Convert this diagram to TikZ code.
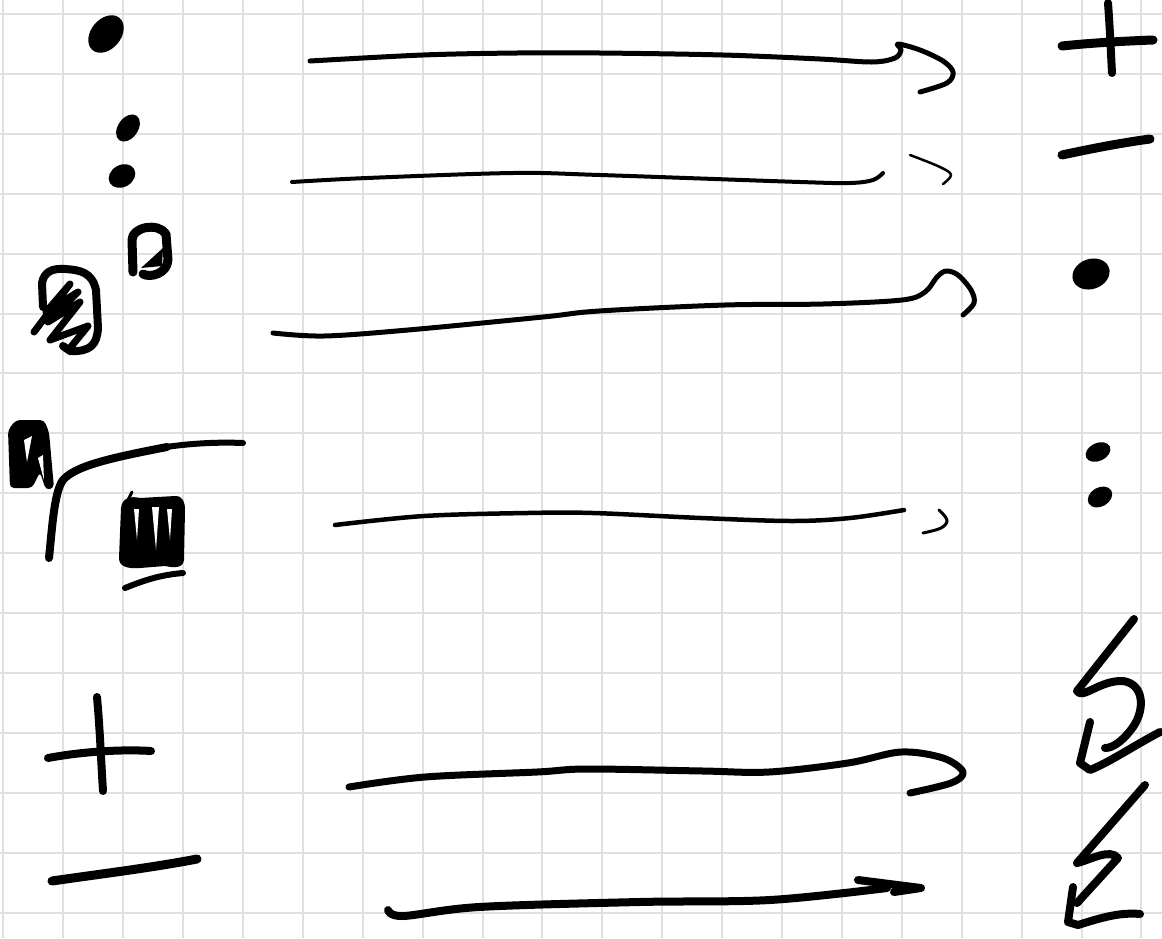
\documentclass[tikz,border=0pt]{standalone}
\begin{document}
\begin{tikzpicture}[x=1pt,y=-1pt,
  gridline/.style={draw=gridgray,line width=2pt},
  ink/.style={draw=black,line width=#1,line cap=round,line join=round},
  ink/.default=5pt]
\definecolor{gridgray}{HTML}{E0E0E0}
\useasboundingbox (0,0) rectangle (1162,938);
\fill[white] (0,0) rectangle (1162,938);
% grid
\foreach \k in {0,...,19} { \draw[gridline] ({3.3+59.9*\k},0) -- ({3.3+59.9*\k},938); }
\foreach \k in {0,...,15} { \draw[gridline] (0,{14+59.9*\k}) -- (1162,{14+59.9*\k}); }

% ---------- left column ----------
% big dot
\begin{scope}[shift={(106,34)},rotate=50]\fill (0,0) ellipse [x radius=21pt,y radius=15pt];\end{scope}
% colon
\begin{scope}[shift={(128,128)},rotate=55]\fill (0,0) ellipse [x radius=15pt,y radius=10pt];\end{scope}
\begin{scope}[shift={(122,176)},rotate=30]\fill (0,0) ellipse [x radius=14pt,y radius=11pt];\end{scope}

% small box
\draw[ink=9pt] (133,272) -- (132,240) .. controls (132,227) and (158,222) .. (166,234)
  -- (168,260) .. controls (167,274) and (150,278) .. (143,274);
\fill (141,268) -- (163,248) -- (162,266) -- cycle;

% scribbled box
\draw[ink=8pt] (43,307) -- (42,283) .. controls (44,272) and (52,268) .. (65,269)
  .. controls (80,270) and (92,272) .. (96,290) -- (98,328) .. controls (97,345) and (90,352) .. (70,351) -- (63,346);
\draw[ink=7pt] (34,332) -- (70,284) -- (46,312) -- (78,292) -- (48,322) -- (80,302) -- (50,340) -- (88,326) -- (70,348);

% filled small box
\fill[rounded corners=4pt] (10,488) -- (8,430) -- (16,420) -- (44,420) -- (49,432) -- (54,488) -- (46,490) -- (40,472) -- (32,488) -- cycle;
\fill[white] (24,440) -- (32,436) -- (27,462) -- cycle;
\fill[white] (38,458) -- (43,455) -- (44,480) -- cycle;

% radical
\draw[ink=8pt] (49,558) .. controls (52,530) and (54,492) .. (63,480)
  .. controls (75,466) and (110,458) .. (167,447);
\draw[ink=6pt] (160,448) .. controls (190,443) and (220,442) .. (243,443);

% m-scribble
\fill (121,508) .. controls (122,497) and (132,496) .. (140,498) -- (175,496)
  .. controls (183,496) and (185,502) .. (185,510) -- (184,560)
  .. controls (183,568) and (175,568) .. (165,566) -- (140,568)
  .. controls (126,569) and (119,566) .. (119,558) -- cycle;
\draw[ink=3pt] (128,500) -- (132,492);
\fill[white] (134,509) -- (139,509) -- (137,540) -- cycle;
\fill[white] (152,507) -- (159,507) -- (156,550) -- cycle;
\fill[white] (167,509) -- (172,509) -- (170,540) -- cycle;
% underline
\draw[ink=6pt] (125,588) .. controls (145,580) and (160,575) .. (183,573);

% plus
\draw[ink=8pt] (97,697) .. controls (100,730) and (101,760) .. (103,791);
\draw[ink=8pt] (48,758) .. controls (80,752) and (120,749) .. (151,751);
% minus
\draw[ink=9pt] (52,881) .. controls (100,874) and (150,868) .. (197,859);

% ---------- right column ----------
\draw[ink=8pt] (1108,3) .. controls (1110,30) and (1111,55) .. (1112,73);
\draw[ink=9pt] (1062,46) .. controls (1090,43) and (1125,41) .. (1153,40);
\draw[ink=9pt] (1062,155) .. controls (1090,149) and (1120,143) .. (1150,139);
\begin{scope}[shift={(1091,274)},rotate=20]\fill (0,0) ellipse [x radius=19pt,y radius=15pt];\end{scope}
\begin{scope}[shift={(1098,452)},rotate=25]\fill (0,0) ellipse [x radius=13pt,y radius=9pt];\end{scope}
\begin{scope}[shift={(1100,497)},rotate=30]\fill (0,0) ellipse [x radius=13pt,y radius=9.5pt];\end{scope}

% upper lightning
\draw[ink=8pt] (1134,619) -- (1077,691) .. controls (1082,700) and (1100,680) .. (1123,681)
  .. controls (1145,684) and (1146,712) .. (1130,731) .. controls (1122,741) and (1113,748) .. (1105,748);
\draw[ink=8pt] (1090,722) -- (1080,763) -- (1090,770) .. controls (1110,762) and (1135,745) .. (1160,732);
% lower lightning
\draw[ink=8pt] (1145,785) -- (1077,863) .. controls (1090,860) and (1110,848) .. (1118,858) -- (1077,903);
\draw[ink=8pt] (1073,887) -- (1068,922) -- (1078,925) .. controls (1100,918) and (1120,912) .. (1140,914);

% ---------- arrows ----------
\draw[ink=5pt] plot[smooth,tension=0.55] coordinates {(310,61) (423,55) (517,53) (600,53) (723,55) (820,59) (872,62) (895,58) (901,50) (898,44) (920,50) (943,61) (953,72) (947,83) (920,92)};
\draw[ink=4pt] plot[smooth,tension=0.55] coordinates {(292,182) (367,178) (513,173) (600,175) (800,182) (850,183) (873,180) (883,173)};
\draw[ink=2.5pt] plot[smooth,tension=0.6] coordinates {(910,155) (940,167) (951,175) (943,184)};
\draw[ink=5pt] plot[smooth,tension=0.55] coordinates {(273,333) (324,336) (408,330) (543,317) (599,311) (725,305) (823,304) (902,300) (925,292) (937,277) (946,271) (958,275) (971,290) (974,303) (963,315)};
\draw[ink=4.5pt] plot[smooth,tension=0.55] coordinates {(335,525) (424,516) (527,513) (593,513) (701,518) (792,521) (850,518) (904,510)};
\draw[ink=3pt] plot[smooth,tension=0.6] coordinates {(939,510) (947,520) (941,528) (923,533)};
\draw[ink=7pt] plot[smooth,tension=0.55] coordinates {(349,787) (425,777) (537,772) (587,769) (703,771) (769,772) (848,763) (901,752) (943,758) (963,772) (951,783) (910,793)};
\draw[ink=8pt] plot[smooth,tension=0.55] coordinates {(388,910) (403,916) (479,907) (639,902) (770,900) (887,888)};
\draw[ink=8pt] (858,880) -- (921,888) -- (894,892);
\end{tikzpicture}
\end{document}
